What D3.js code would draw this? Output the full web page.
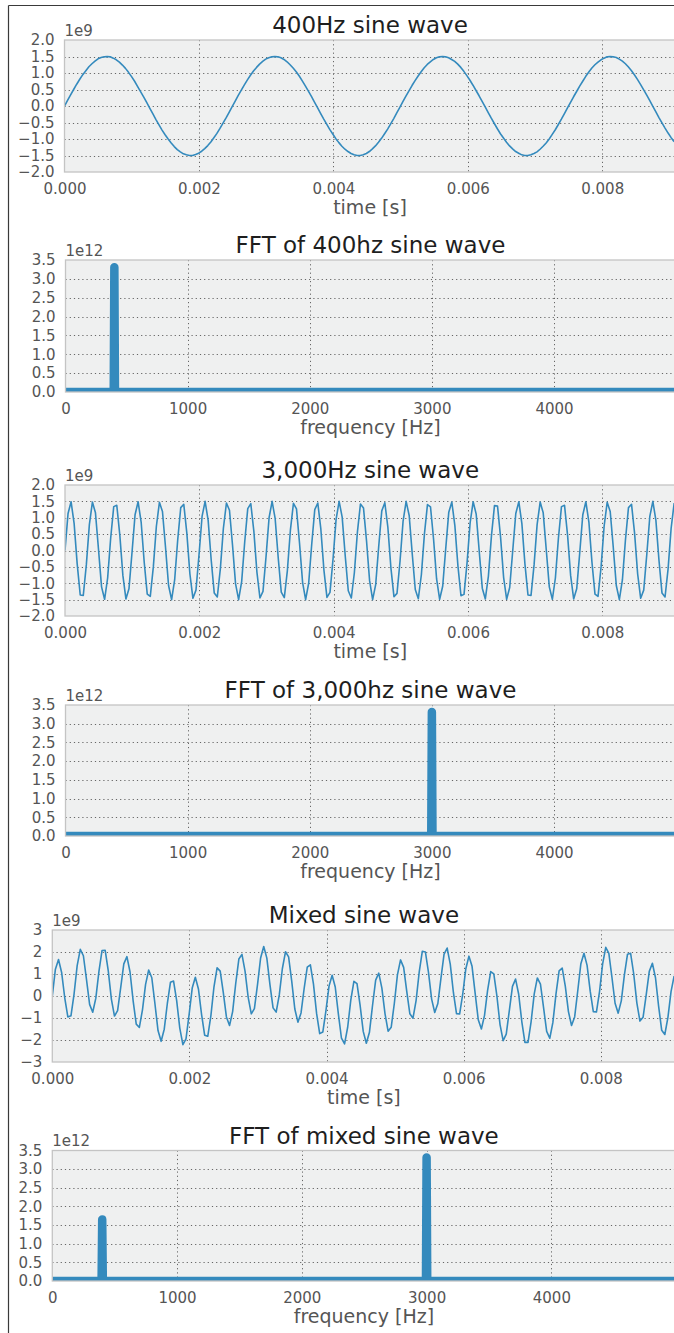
<!DOCTYPE html>
<html>
<head>
<meta charset="utf-8">
<script src="https://cdn.jsdelivr.net/npm/d3@7"></script>
<style>
  html, body { margin: 0; padding: 0; background: #ffffff; }
  svg { display: block; }
</style>
</head>
<body>
<svg id="chart" width="674" height="1333"></svg>
<script>
// ---------------- DATA ----------------
const sampleRate = 22050; // samples per second (sample i is at time i / sampleRate)

// time-domain samples, in units of 1e7 (0.01 x 1e9)
const sine400 = [
  0, 17, 34, 50, 66, 81, 95, 107, 119, 128, 136, 143, 147, 149,
  150, 149, 145, 140, 133, 124, 114, 102, 89, 75, 59, 43, 27, 10,
  -7, -24, -41, -57, -73, -87, -100, -112, -123, -132, -139, -145, -148, -150,
  -150, -147, -143, -137, -129, -120, -109, -96, -83, -68, -52, -36, -19, -2,
  15, 32, 48, 64, 79, 93, 106, 117, 127, 135, 142, 146, 149, 150,
  149, 146, 141, 134, 125, 115, 104, 91, 76, 61, 45, 29, 12, -5,
  -22, -39, -55, -71, -85, -99, -111, -122, -131, -138, -144, -148, -150, -150,
  -148, -144, -138, -130, -121, -110, -98, -84, -70, -54, -38, -21, -4, 13,
  30, 46, 62, 77, 91, 104, 116, 126, 134, 141, 146, 149, 150, 149,
  146, 141, 135, 127, 117, 105, 92, 78, 63, 47, 31, 14, -3, -20,
  -37, -53, -69, -84, -97, -110, -121, -130, -138, -143, -148, -150, -150, -148,
  -144, -139, -131, -122, -112, -100, -86, -72, -56, -40, -23, -6, 11, 28,
  44, 60, 75, 90, 103, 115, 125, 133, 140, 145, 149, 150, 149, 147,
  142, 136, 128, 118, 107, 94, 80, 65, 49, 33, 16, -1, -18, -35,
  -51, -67, -82, -96, -108
];
const sine3000 = [
  0, 113, 149, 82, -41, -136, -137, -44, 79, 148, 115, 3, -111, -149,
  -84, 38, 134, 138, 47, -76, -148, -117, -6, 109, 149, 87, -35, -133,
  -140, -50, 74, 147, 119, 10, -107, -150, -90, 32, 131, 141, 53, -71,
  -146, -121, -13, 104, 150, 92, -29, -130, -142, -56, 68, 145, 123, 16,
  -102, -150, -95, 26, 128, 143, 59, -65, -145, -125, -19, 100, 150, 97,
  -22, -127, -144, -62, 62, 144, 127, 22, -97, -150, -100, 19, 125, 145,
  65, -59, -143, -128, -26, 95, 150, 102, -16, -123, -145, -68, 56, 142,
  130, 29, -92, -150, -104, 13, 121, 146, 71, -53, -141, -131, -32, 90,
  150, 107, -10, -119, -147, -74, 50, 140, 133, 35, -87, -149, -109, 6,
  117, 148, 76, -47, -138, -134, -38, 84, 149, 111, -3, -115, -148, -79,
  44, 137, 136, 41, -82, -149, -113, 0, 113, 149, 82, -41, -136, -137,
  -44, 79, 148, 115, 3, -111, -149, -84, 38, 134, 138, 47, -76, -148,
  -117, -6, 109, 149, 87, -35, -133, -140, -50, 74, 147, 119, 10, -107,
  -150, -90, 32, 131, 141, 53, -71, -146, -121, -13, 104, 150, 92, -29,
  -130, -142, -56, 68, 145
];
const sineMixed = [
  0, 122, 166, 107, -8, -95, -90, 9, 138, 212, 183, 74, -38, -74,
  -10, 112, 207, 208, 114, -14, -91, -66, 38, 146, 179, 109, -22, -128,
  -143, -63, 53, 118, 83, -34, -157, -206, -151, -34, 62, 68, -21, -146,
  -221, -195, -84, 36, 85, 32, -83, -178, -183, -90, 42, 128, 113, 15,
  -95, -134, -71, 58, 168, 189, 112, -6, -81, -57, 52, 173, 225, 172,
  52, -54, -73, 5, 125, 201, 178, 68, -59, -119, -77, 34, 131, 142,
  54, -79, -171, -164, -68, 45, 94, 41, -81, -192, -218, -142, -19, 67,
  56, -43, -161, -215, -165, -42, 72, 104, 36, -80, -160, -142, -34, 96,
  164, 130, 21, -81, -101, -21, 108, 203, 200, 106, -14, -75, -34, 81,
  190, 218, 144, 16, -80, -82, 8, 124, 181, 135, 12, -108, -150, -89,
  26, 111, 101, -1, -130, -203, -173, -65, 44, 77, 8, -116, -211, -211,
  -116, 10, 82, 54, -53, -161, -192, -120, 10, 114, 127, 44, -71, -134,
  -95, 24, 147, 194, 139, 22, -71, -73, 20, 146, 221, 194, 84, -33,
  -78, -22, 96, 190, 194, 100, -31, -114, -97, 4, 112, 149, 83, -46,
  -156, -175, -97, 20, 91
];

// FFT magnitudes (units of 1e12) at frequencies in Hz
const fft400Freq = [0, 395, 400, 405, 4995];
const fft400Mag = [0, 0, 3.31, 0, 0];
const fft3000Freq = [0, 2995, 3000, 3005, 4995];
const fft3000Mag = [0, 0, 3.31, 0, 0];
const fftMixedFreq = [0, 395, 400, 405, 2995, 3000, 3005, 4995];
const fftMixedMag = [0, 0, 1.65, 0, 0, 3.31, 0, 0];

// ticks
const timeTicks = [0, 0.002, 0.004, 0.006, 0.008];
const freqTicks = [0, 1000, 2000, 3000, 4000];
const waveTicks = [-2, -1.5, -1, -0.5, 0, 0.5, 1, 1.5, 2];
const mixedTicks = [-3, -2, -1, 0, 1, 2, 3];
const fftTicks = [0, 0.5, 1, 1.5, 2, 2.5, 3, 3.5];

const titles = ["400Hz sine wave", "FFT of 400hz sine wave", "3,000Hz sine wave",
                "FFT of 3,000hz sine wave", "Mixed sine wave", "FFT of mixed sine wave"];
const xLabels = ["time [s]", "frequency [Hz]", "time [s]", "frequency [Hz]", "time [s]", "frequency [Hz]"];
const offsetLabels = ["1e9", "1e12", "1e9", "1e12", "1e9", "1e12"];

// ---------------- LAYOUT ----------------
const RIGHT = 675.5;
const tops = [40, 260, 485, 705, 930, 1150.5];
const bottoms = [172, 392, 616, 836, 1062, 1281];
const lefts = [64.5, 65.5, 65, 65.5, 52.3, 52.3];

const BLUE = "#348ABD";
const FONT = "DejaVu Sans, Liberation Sans, sans-serif";
const TICK_COLOR = "#555555";

const svg = d3.select("#chart");

// outer frame
svg.append("line").attr("x1", 8.5).attr("y1", 5.5).attr("x2", 674).attr("y2", 5.5)
  .attr("stroke", "#3a3a3a").attr("stroke-width", 1.2);
svg.append("line").attr("x1", 8.5).attr("y1", 5.5).attr("x2", 8.5).attr("y2", 1333)
  .attr("stroke", "#3a3a3a").attr("stroke-width", 1.2);

const panels = [
  { kind: "time", values: sine400, yDomain: [-2, 2], yTicks: waveTicks, yFmt: d3.format(".1f") },
  { kind: "fft", freq: fft400Freq, mag: fft400Mag, yDomain: [0, 3.5], yTicks: fftTicks, yFmt: d3.format(".1f") },
  { kind: "time", values: sine3000, yDomain: [-2, 2], yTicks: waveTicks, yFmt: d3.format(".1f") },
  { kind: "fft", freq: fft3000Freq, mag: fft3000Mag, yDomain: [0, 3.5], yTicks: fftTicks, yFmt: d3.format(".1f") },
  { kind: "time", values: sineMixed, yDomain: [-3, 3], yTicks: mixedTicks, yFmt: d3.format("d") },
  { kind: "fft", freq: fftMixedFreq, mag: fftMixedMag, yDomain: [0, 3.5], yTicks: fftTicks, yFmt: d3.format(".1f") }
];

panels.forEach((p, k) => {
  const left = lefts[k], top = tops[k], bottom = bottoms[k];
  const isTime = p.kind === "time";
  const x = d3.scaleLinear()
    .domain(isTime ? [0, 0.00909] : [0, 4995])
    .range([left, RIGHT]);
  const y = d3.scaleLinear().domain(p.yDomain).range([bottom, top]);
  const xTicks = isTime ? timeTicks : freqTicks;
  const xFmt = isTime ? d3.format(".3f") : d3.format("d");

  const g = svg.append("g");

  // background
  g.append("rect").attr("x", left).attr("y", top)
    .attr("width", RIGHT - left).attr("height", bottom - top)
    .attr("fill", "#eff0f0");

  // clip
  const clipId = "clip" + k;
  svg.append("clipPath").attr("id", clipId).append("rect")
    .attr("x", left).attr("y", top).attr("width", RIGHT - left).attr("height", bottom - top);

  // grid
  const grid = g.append("g").attr("stroke", "#666666").attr("stroke-width", 1)
    .attr("stroke-dasharray", "1.2,3").attr("fill", "none");
  p.yTicks.filter(v => v > p.yDomain[0] && v < p.yDomain[1]).forEach(v => {
    grid.append("line").attr("x1", left).attr("x2", RIGHT)
      .attr("y1", Math.round(y(v)) + 0.5).attr("y2", Math.round(y(v)) + 0.5);
  });
  xTicks.filter(v => v > 0).forEach(v => {
    grid.append("line").attr("y1", top).attr("y2", bottom)
      .attr("x1", Math.round(x(v)) + 0.5).attr("x2", Math.round(x(v)) + 0.5);
  });

  // data line
  if (isTime) {
    const line = d3.line().x((d, i) => x(i / sampleRate)).y(d => y(d / 100));
    g.append("path").datum(p.values).attr("d", line)
      .attr("clip-path", `url(#${clipId})`)
      .attr("fill", "none").attr("stroke", BLUE).attr("stroke-width", 1.6)
      .attr("stroke-linejoin", "round");
  } else {
    const pts = p.freq.map((f, i) => [f, p.mag[i]]);
    const line = d3.line().x(d => x(d[0])).y(d => y(d[1]));
    g.append("path").datum(pts).attr("d", line)
      .attr("clip-path", `url(#${clipId})`)
      .attr("fill", "none").attr("stroke", BLUE).attr("stroke-width", 8.5)
      .attr("stroke-linejoin", "round").attr("stroke-linecap", "butt");
  }

  // spines
  g.append("rect").attr("x", left).attr("y", top)
    .attr("width", RIGHT - left).attr("height", bottom - top)
    .attr("fill", "none").attr("stroke", "#c4c4c4").attr("stroke-width", 1.3);

  // axes
  const yAxis = d3.axisLeft(y).tickValues(p.yTicks).tickFormat(p.yFmt).tickSize(0).tickPadding(10);
  const ya = g.append("g").attr("transform", `translate(${left},0)`).call(yAxis);
  const xAxis = d3.axisBottom(x).tickValues(xTicks).tickFormat(xFmt).tickSize(0).tickPadding(11);
  const xa = g.append("g").attr("transform", `translate(0,${bottom})`).call(xAxis);
  [ya, xa].forEach(a => {
    a.select(".domain").remove();
    a.attr("font-family", FONT).attr("font-size", 15);
    a.selectAll("text").attr("fill", TICK_COLOR);
  });

  // offset text
  g.append("text").attr("x", left).attr("y", top - 4.5)
    .attr("font-family", FONT).attr("font-size", 15).attr("fill", TICK_COLOR)
    .text(offsetLabels[k]);

  // title
  g.append("text").attr("x", (left + RIGHT) / 2).attr("y", top - 7)
    .attr("text-anchor", "middle").attr("font-family", FONT).attr("font-size", 23)
    .attr("fill", "#1e1e1e").text(titles[k]);

  // x label
  g.append("text").attr("x", (left + RIGHT) / 2).attr("y", bottom + 42)
    .attr("text-anchor", "middle").attr("font-family", FONT).attr("font-size", 19)
    .attr("fill", TICK_COLOR).text(xLabels[k]);
});
</script>
</body>
</html>
